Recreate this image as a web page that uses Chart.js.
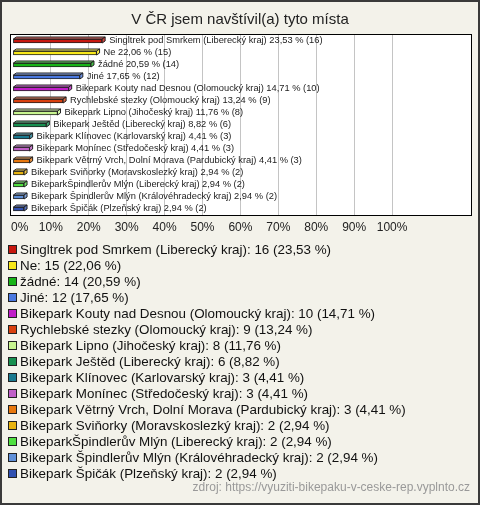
<!DOCTYPE html>
<html>
<head>
<meta charset="utf-8">
<script src="https://cdn.jsdelivr.net/npm/chart.js@4/dist/chart.umd.min.js"></script>
<style>
html,body{margin:0;padding:0;background:#f3f2ea;}
canvas{display:block;}
</style>
</head>
<body>
<canvas id="c" width="480" height="505"></canvas>
<script>
const chartTitle = "V ČR jsem navštívil(a) tyto místa";
const categories = [
  "Singltrek pod Smrkem (Liberecký kraj)",
  "Ne",
  "žádné",
  "Jiné",
  "Bikepark Kouty nad Desnou (Olomoucký kraj)",
  "Rychlebské stezky (Olomoucký kraj)",
  "Bikepark Lipno (Jihočeský kraj)",
  "Bikepark Ještěd (Liberecký kraj)",
  "Bikepark Klínovec (Karlovarský kraj)",
  "Bikepark Monínec (Středočeský kraj)",
  "Bikepark Větrný Vrch, Dolní Morava (Pardubický kraj)",
  "Bikepark Sviňorky (Moravskoslezký kraj)",
  "BikeparkŠpindlerův Mlýn (Liberecký kraj)",
  "Bikepark Špindlerův Mlýn (Královéhradecký kraj)",
  "Bikepark Špičák (Plzeňský kraj)"
];
const counts = [16, 15, 14, 12, 10, 9, 8, 6, 3, 3, 3, 2, 2, 2, 2];
const percents = [23.53, 22.06, 20.59, 17.65, 14.71, 13.24, 11.76, 8.82, 4.41, 4.41, 4.41, 2.94, 2.94, 2.94, 2.94];
const colors = ["#c8180f", "#f8e81a", "#18b418", "#4a78e0", "#c01ec8", "#d9400f", "#c8f590", "#179050",
                "#1a7a90", "#c060c8", "#e8780f", "#e8b410", "#50e040", "#6090d8", "#3050b0"];
const tickValues = [0, 10, 20, 30, 40, 50, 60, 70, 80, 90, 100];
const sourceText = "zdroj: https://vyuziti-bikepaku-v-ceske-rep.vyplnto.cz";

const FONT = "'Liberation Sans', Arial, sans-serif";
const fmt = v => v.toFixed(2).replace('.', ',');

function shade(hex, f) {
  const n = parseInt(hex.slice(1), 16);
  let r = (n >> 16) & 255, g = (n >> 8) & 255, b = n & 255;
  if (f > 0) { r += (255 - r) * f; g += (255 - g) * f; b += (255 - b) * f; }
  else { r *= (1 + f); g *= (1 + f); b *= (1 + f); }
  return `rgb(${Math.round(r)},${Math.round(g)},${Math.round(b)})`;
}

const decor = {
  id: 'decor',
  beforeDraw(chart) {
    const { ctx, chartArea: a } = chart;
    ctx.save();
    ctx.fillStyle = '#f3f2ea';
    ctx.fillRect(0, 0, chart.width, chart.height);
    ctx.fillStyle = '#ffffff';
    ctx.fillRect(a.left, a.top, a.right - a.left, a.bottom - a.top);
    ctx.restore();
  },
  afterDatasetsDraw(chart) {
    const { ctx } = chart;
    const meta = chart.getDatasetMeta(0);
    const dx = 3, dy = 2;
    ctx.save();
    meta.data.forEach((bar, i) => {
      const p = bar.getProps(['x', 'y', 'base', 'height'], true);
      const top = p.y - p.height / 2, bottom = p.y + p.height / 2;
      ctx.lineWidth = 1;
      ctx.strokeStyle = '#222';
      ctx.lineJoin = 'miter';
      ctx.beginPath();
      ctx.moveTo(p.base, top);
      ctx.lineTo(p.base + dx, top - dy);
      ctx.lineTo(p.x + dx, top - dy);
      ctx.lineTo(p.x, top);
      ctx.closePath();
      ctx.fillStyle = shade(colors[i], 0.35);
      ctx.fill(); ctx.stroke();
      ctx.beginPath();
      ctx.moveTo(p.x, top);
      ctx.lineTo(p.x + dx, top - dy);
      ctx.lineTo(p.x + dx, bottom - dy);
      ctx.lineTo(p.x, bottom);
      ctx.closePath();
      ctx.fillStyle = shade(colors[i], 0.2);
      ctx.fill(); ctx.stroke();
      ctx.fillStyle = '#222';
      ctx.font = "9.3px " + FONT;
      ctx.textBaseline = 'middle';
      ctx.textAlign = 'left';
      ctx.fillText(categories[i] + " " + fmt(percents[i]) + " % (" + counts[i] + ")", p.x + 7, p.y - 1);
    });
    ctx.restore();
  },
  afterDraw(chart) {
    const { ctx, chartArea: a } = chart;
    ctx.save();
    ctx.strokeStyle = '#000';
    ctx.lineWidth = 1;
    ctx.strokeRect(a.left - 0.5, a.top - 0.5, a.right - a.left + 1, a.bottom - a.top + 1);
    ctx.strokeStyle = '#3a3a3a';
    ctx.lineWidth = 2;
    ctx.strokeRect(1, 1, chart.width - 2, chart.height - 2);
    // first tick label, kept inside the frame like the reference
    ctx.fillStyle = '#222';
    ctx.font = "12px " + FONT;
    ctx.textAlign = 'left';
    ctx.textBaseline = 'middle';
    ctx.fillText(tickValues[0] + '%', a.left, a.bottom + 5 + 7.2);
    // title
    ctx.font = "15px " + FONT;
    ctx.textAlign = 'center';
    ctx.fillText(chartTitle, 240, 20);
    // legend
    ctx.textAlign = 'left';
    ctx.font = "13.4px " + FONT;
    categories.forEach((c, i) => {
      const y = 250 + i * 16;
      ctx.fillStyle = colors[i];
      ctx.fillRect(8.5, y - 4.5, 8, 8);
      ctx.strokeStyle = '#222';
      ctx.lineWidth = 1;
      ctx.strokeRect(8.5, y - 4.5, 8, 8);
      ctx.fillStyle = '#111';
      ctx.fillText(c + ": " + counts[i] + " (" + fmt(percents[i]) + " %)", 20, y);
    });
    ctx.fillStyle = '#999';
    ctx.font = "12px " + FONT;
    ctx.textAlign = 'right';
    ctx.fillText(sourceText, 470, 488);
    ctx.restore();
  }
};

new Chart(document.getElementById('c'), {
  type: 'bar',
  data: {
    labels: categories,
    datasets: [{
      data: percents,
      backgroundColor: colors,
      borderColor: '#222',
      borderWidth: 1,
      borderSkipped: false,
      barThickness: 4
    }]
  },
  options: {
    indexAxis: 'y',
    responsive: false,
    animation: false,
    devicePixelRatio: 1,
    layout: { padding: { left: 11, right: 9, top: 35, bottom: 268 } },
    plugins: { legend: { display: false }, tooltip: { enabled: false }, title: { display: false } },
    scales: {
      x: {
        type: 'linear',
        min: -0.5,
        max: 120.8,
        afterBuildTicks: s => { s.ticks = tickValues.map(v => ({ value: v })); },
        afterFit: s => { s.height = 22; },
        border: { display: false },
        grid: {
          color: c => (c.tick && c.tick.value === 0) ? 'rgba(0,0,0,0)' : '#c4c4c4',
          drawTicks: false,
          lineWidth: 1
        },
        ticks: {
          padding: 5,
          color: '#222',
          font: { family: FONT, size: 12 },
          callback: v => v === 0 ? '' : v + '%',
          maxRotation: 0,
          autoSkip: false
        }
      },
      y: {
        type: 'category',
        display: false,
        grid: { display: false }
      }
    }
  },
  plugins: [decor]
});
</script>
</body>
</html>
